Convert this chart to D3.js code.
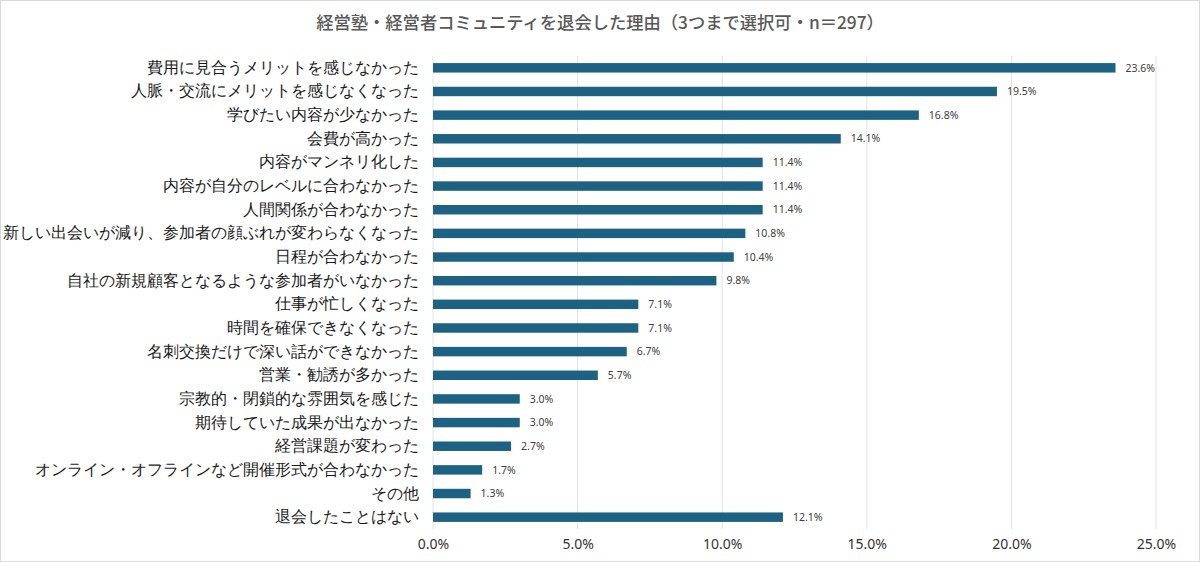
<!DOCTYPE html>
<html>
<head>
<meta charset="utf-8">
<script src="https://cdn.jsdelivr.net/npm/d3@7"></script>
<style>
  body { margin: 0; background: #fff; }
  svg { display: block; font-family: "Noto Sans CJK JP", "Noto Sans", sans-serif; }
</style>
</head>
<body>
<svg id="chart" width="1200" height="562"></svg>
<script>
var title = '経営塾・経営者コミュニティを退会した理由（3つまで選択可・n＝297）';

var categories = [
  '費用に見合うメリットを感じなかった',
  '人脈・交流にメリットを感じなくなった',
  '学びたい内容が少なかった',
  '会費が高かった',
  '内容がマンネリ化した',
  '内容が自分のレベルに合わなかった',
  '人間関係が合わなかった',
  '新しい出会いが減り、参加者の顔ぶれが変わらなくなった',
  '日程が合わなかった',
  '自社の新規顧客となるような参加者がいなかった',
  '仕事が忙しくなった',
  '時間を確保できなくなった',
  '名刺交換だけで深い話ができなかった',
  '営業・勧誘が多かった',
  '宗教的・閉鎖的な雰囲気を感じた',
  '期待していた成果が出なかった',
  '経営課題が変わった',
  'オンライン・オフラインなど開催形式が合わなかった',
  'その他',
  '退会したことはない'
];

var values = [23.6, 19.5, 16.8, 14.1, 11.4, 11.4, 11.4, 10.8, 10.4, 9.8,
              7.1, 7.1, 6.7, 5.7, 3.0, 3.0, 2.7, 1.7, 1.3, 12.1];

var xTicks = [0, 5, 10, 15, 20, 25];

var data = categories.map(function(c, i) {
  return { name: c, value: values[i] };
});

var svg = d3.select('#chart');
var plotLeft = 433, plotRight = 1156, plotTop = 56, plotBottom = 529;

// outer frame
svg.append('rect')
  .attr('x', 0.5).attr('y', 0.5)
  .attr('width', 1199).attr('height', 561)
  .attr('fill', '#fff')
  .attr('stroke', '#d9d9d9');

var x = d3.scaleLinear().domain([0, 25]).range([plotLeft, plotRight]);
var y = d3.scaleBand().domain(categories).range([plotTop, plotBottom]).paddingInner(0.6).paddingOuter(0.3);

// gridlines
svg.append('g')
  .selectAll('line')
  .data(xTicks)
  .enter().append('line')
  .attr('x1', function(d) { return x(d); })
  .attr('x2', function(d) { return x(d); })
  .attr('y1', plotTop)
  .attr('y2', plotBottom)
  .attr('stroke', '#e3e1e6')
  .attr('stroke-width', 1);

// x axis labels
var xAxis = d3.axisBottom(x)
  .tickValues(xTicks)
  .tickSize(0)
  .tickPadding(10)
  .tickFormat(function(d) { return d.toFixed(1) + '%'; });

var gx = svg.append('g')
  .attr('transform', 'translate(0,' + plotBottom + ')')
  .call(xAxis);
gx.select('.domain').remove();
gx.selectAll('text')
  .attr('font-size', 14)
  .attr('fill', '#333')
  .attr('font-family', '"Noto Sans", sans-serif');

// y axis labels
var yAxis = d3.axisLeft(y).tickSize(0).tickPadding(14);
var gy = svg.append('g')
  .attr('transform', 'translate(' + plotLeft + ',0)')
  .call(yAxis);
gy.select('.domain').remove();
gy.selectAll('text')
  .attr('font-size', 15.6)
  .attr('fill', '#1a1a1a');

// bars
svg.append('g')
  .selectAll('rect')
  .data(data)
  .enter().append('rect')
  .attr('x', x(0))
  .attr('y', function(d) { return y(d.name); })
  .attr('width', function(d) { return x(d.value) - x(0); })
  .attr('height', y.bandwidth())
  .attr('fill', '#1d6283');

// value labels
svg.append('g')
  .selectAll('text')
  .data(data)
  .enter().append('text')
  .attr('x', function(d) { return x(d.value) + 10; })
  .attr('y', function(d) { return y(d.name) + y.bandwidth() / 2; })
  .attr('dy', '0.35em')
  .attr('font-size', 10.5)
  .attr('fill', '#404040')
  .attr('font-family', '"Noto Sans", sans-serif')
  .text(function(d) { return d.value.toFixed(1) + '%'; });

// title
svg.append('text')
  .attr('x', 600)
  .attr('y', 29)
  .attr('text-anchor', 'middle')
  .attr('font-size', 17.3)
  .attr('font-weight', 500)
  .attr('fill', '#595959')
  .text(title);
</script>
</body>
</html>
